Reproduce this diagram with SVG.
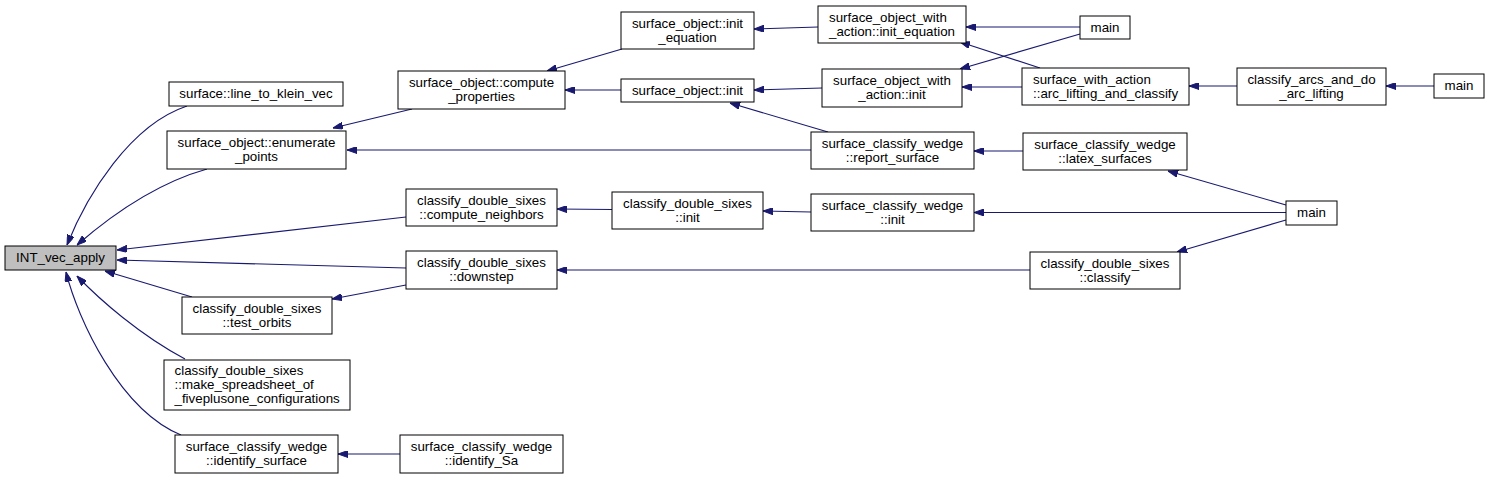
<svg xmlns="http://www.w3.org/2000/svg" width="1490" height="479" viewBox="0 0 1490 479">
<style>
.n rect{fill:#ffffff;stroke:#000000;stroke-width:1}
.n text{font-family:"Liberation Sans",Arial,Helvetica,sans-serif;font-size:13.33px;fill:#000000;text-anchor:middle}
.n text.l{text-anchor:start}
#n0 rect{fill:#bfbfbf}
.e path{fill:none;stroke:#191970;stroke-width:1.1;marker-start:url(#ah)}
</style>
<defs>
<marker id="ah" viewBox="0 0 10 7" refX="10" refY="3.5" markerWidth="10" markerHeight="7" markerUnits="userSpaceOnUse" orient="auto-start-reverse">
<path d="M0,0 L10,3.5 L0,7 z" fill="#191970" stroke="#191970" stroke-width="1"/>
</marker>
</defs>
<rect x="0" y="0" width="1490" height="479" fill="#ffffff"/>
<g id="edges" class="e">
<path d="M67,245 C87,195 130,125 187,106"/>
<path d="M77,245 C100,225 150,185 207,169"/>
<path d="M117,250 L406,217"/>
<path d="M117,260 L406,268"/>
<path d="M105,271 L192,297"/>
<path d="M77,276 C100,300 140,335 185,359"/>
<path d="M66,272 C78,320 120,410 181,435"/>
<path d="M338,454 L400,454"/>
<path d="M332,299 L406,285"/>
<path d="M333,128 L412,109"/>
<path d="M347,150 L811,150"/>
<path d="M547,71 L622,49"/>
<path d="M565,90 L621,90"/>
<path d="M754,29 L818,27"/>
<path d="M754,90 L822,88"/>
<path d="M730,103 L828,132"/>
<path d="M966,27 L1080,27"/>
<path d="M960,69 L1080,34"/>
<path d="M960,42 L1040,68"/>
<path d="M962,87 L1022,87"/>
<path d="M1189,86 L1237,86"/>
<path d="M1386,86 L1434,86"/>
<path d="M974,151 L1023,151"/>
<path d="M1168,171 L1286,205"/>
<path d="M557,209 L612,209.5"/>
<path d="M763,211 L811,212"/>
<path d="M974,212.5 L1286,212.5"/>
<path d="M557,270 L1030,270"/>
<path d="M1177,252 L1286,220"/>
</g>
<g id="n0" class="n"><rect x="5" y="246" width="111" height="24"/><text x="60.5" y="262.3">INT_vec_apply</text></g>
<g id="n1" class="n"><rect x="169" y="82" width="174" height="24"/><text x="256" y="98.3">surface::line_to_klein_vec</text></g>
<g id="n2" class="n"><rect x="167" y="131" width="179" height="38"/><text x="256.5" y="147.3">surface_object::enumerate</text><text x="256.5" y="161.3">_points</text></g>
<g id="n3" class="n"><rect x="398" y="71" width="167" height="38"/><text x="481.5" y="87.3">surface_object::compute</text><text x="481.5" y="101.3">_properties</text></g>
<g id="n4" class="n"><rect x="621" y="12" width="133" height="37"/><text x="687.5" y="27.8">surface_object::init</text><text x="687.5" y="41.8">_equation</text></g>
<g id="n5" class="n"><rect x="621" y="79" width="133" height="23"/><text x="687.5" y="94.8">surface_object::init</text></g>
<g id="n6" class="n"><rect x="818" y="6" width="148" height="37"/><text class="l" x="829" y="21.8">surface_object_with</text><text class="l" x="829" y="35.8">_action::init_equation</text></g>
<g id="n7" class="n"><rect x="822" y="69" width="140" height="38"/><text x="892" y="85.3">surface_object_with</text><text x="892" y="99.3">_action::init</text></g>
<g id="n8" class="n"><rect x="1080" y="16" width="50" height="23"/><text x="1105" y="31.8">main</text></g>
<g id="n9" class="n"><rect x="1022" y="68" width="167" height="37"/><text class="l" x="1033" y="83.8">surface_with_action</text><text class="l" x="1033" y="97.8">::arc_lifting_and_classify</text></g>
<g id="n10" class="n"><rect x="1237" y="68" width="149" height="37"/><text x="1311.5" y="83.8">classify_arcs_and_do</text><text x="1311.5" y="97.8">_arc_lifting</text></g>
<g id="n11" class="n"><rect x="1434" y="74" width="50" height="24"/><text x="1459" y="90.3">main</text></g>
<g id="n12" class="n"><rect x="811" y="132" width="163" height="37"/><text x="892.5" y="147.8">surface_classify_wedge</text><text x="892.5" y="161.8">::report_surface</text></g>
<g id="n13" class="n"><rect x="1023" y="133" width="164" height="37"/><text x="1105" y="148.8">surface_classify_wedge</text><text x="1105" y="162.8">::latex_surfaces</text></g>
<g id="n14" class="n"><rect x="406" y="189" width="151" height="37"/><text x="481.5" y="204.8">classify_double_sixes</text><text x="481.5" y="218.8">::compute_neighbors</text></g>
<g id="n15" class="n"><rect x="612" y="192" width="151" height="37"/><text x="687.5" y="207.8">classify_double_sixes</text><text x="687.5" y="221.8">::init</text></g>
<g id="n16" class="n"><rect x="811" y="194" width="163" height="37"/><text x="892.5" y="209.8">surface_classify_wedge</text><text x="892.5" y="223.8">::init</text></g>
<g id="n17" class="n"><rect x="1286" y="201" width="51" height="24"/><text x="1311.5" y="217.3">main</text></g>
<g id="n18" class="n"><rect x="406" y="251" width="151" height="38"/><text x="481.5" y="267.3">classify_double_sixes</text><text x="481.5" y="281.3">::downstep</text></g>
<g id="n19" class="n"><rect x="1030" y="252" width="150" height="37"/><text x="1105" y="267.8">classify_double_sixes</text><text x="1105" y="281.8">::classify</text></g>
<g id="n20" class="n"><rect x="182" y="297" width="150" height="37"/><text x="257" y="312.8">classify_double_sixes</text><text x="257" y="326.8">::test_orbits</text></g>
<g id="n21" class="n"><rect x="164" y="360" width="186" height="50"/><text class="l" x="174.5" y="375.3">classify_double_sixes</text><text class="l" x="174.5" y="389.3">::make_spreadsheet_of</text><text class="l" x="174.5" y="403.3">_fiveplusone_configurations</text></g>
<g id="n22" class="n"><rect x="175" y="435" width="163" height="38"/><text x="256.5" y="451.3">surface_classify_wedge</text><text x="256.5" y="465.3">::identify_surface</text></g>
<g id="n23" class="n"><rect x="400" y="435" width="163" height="38"/><text x="481.5" y="451.3">surface_classify_wedge</text><text x="481.5" y="465.3">::identify_Sa</text></g>
</svg>
